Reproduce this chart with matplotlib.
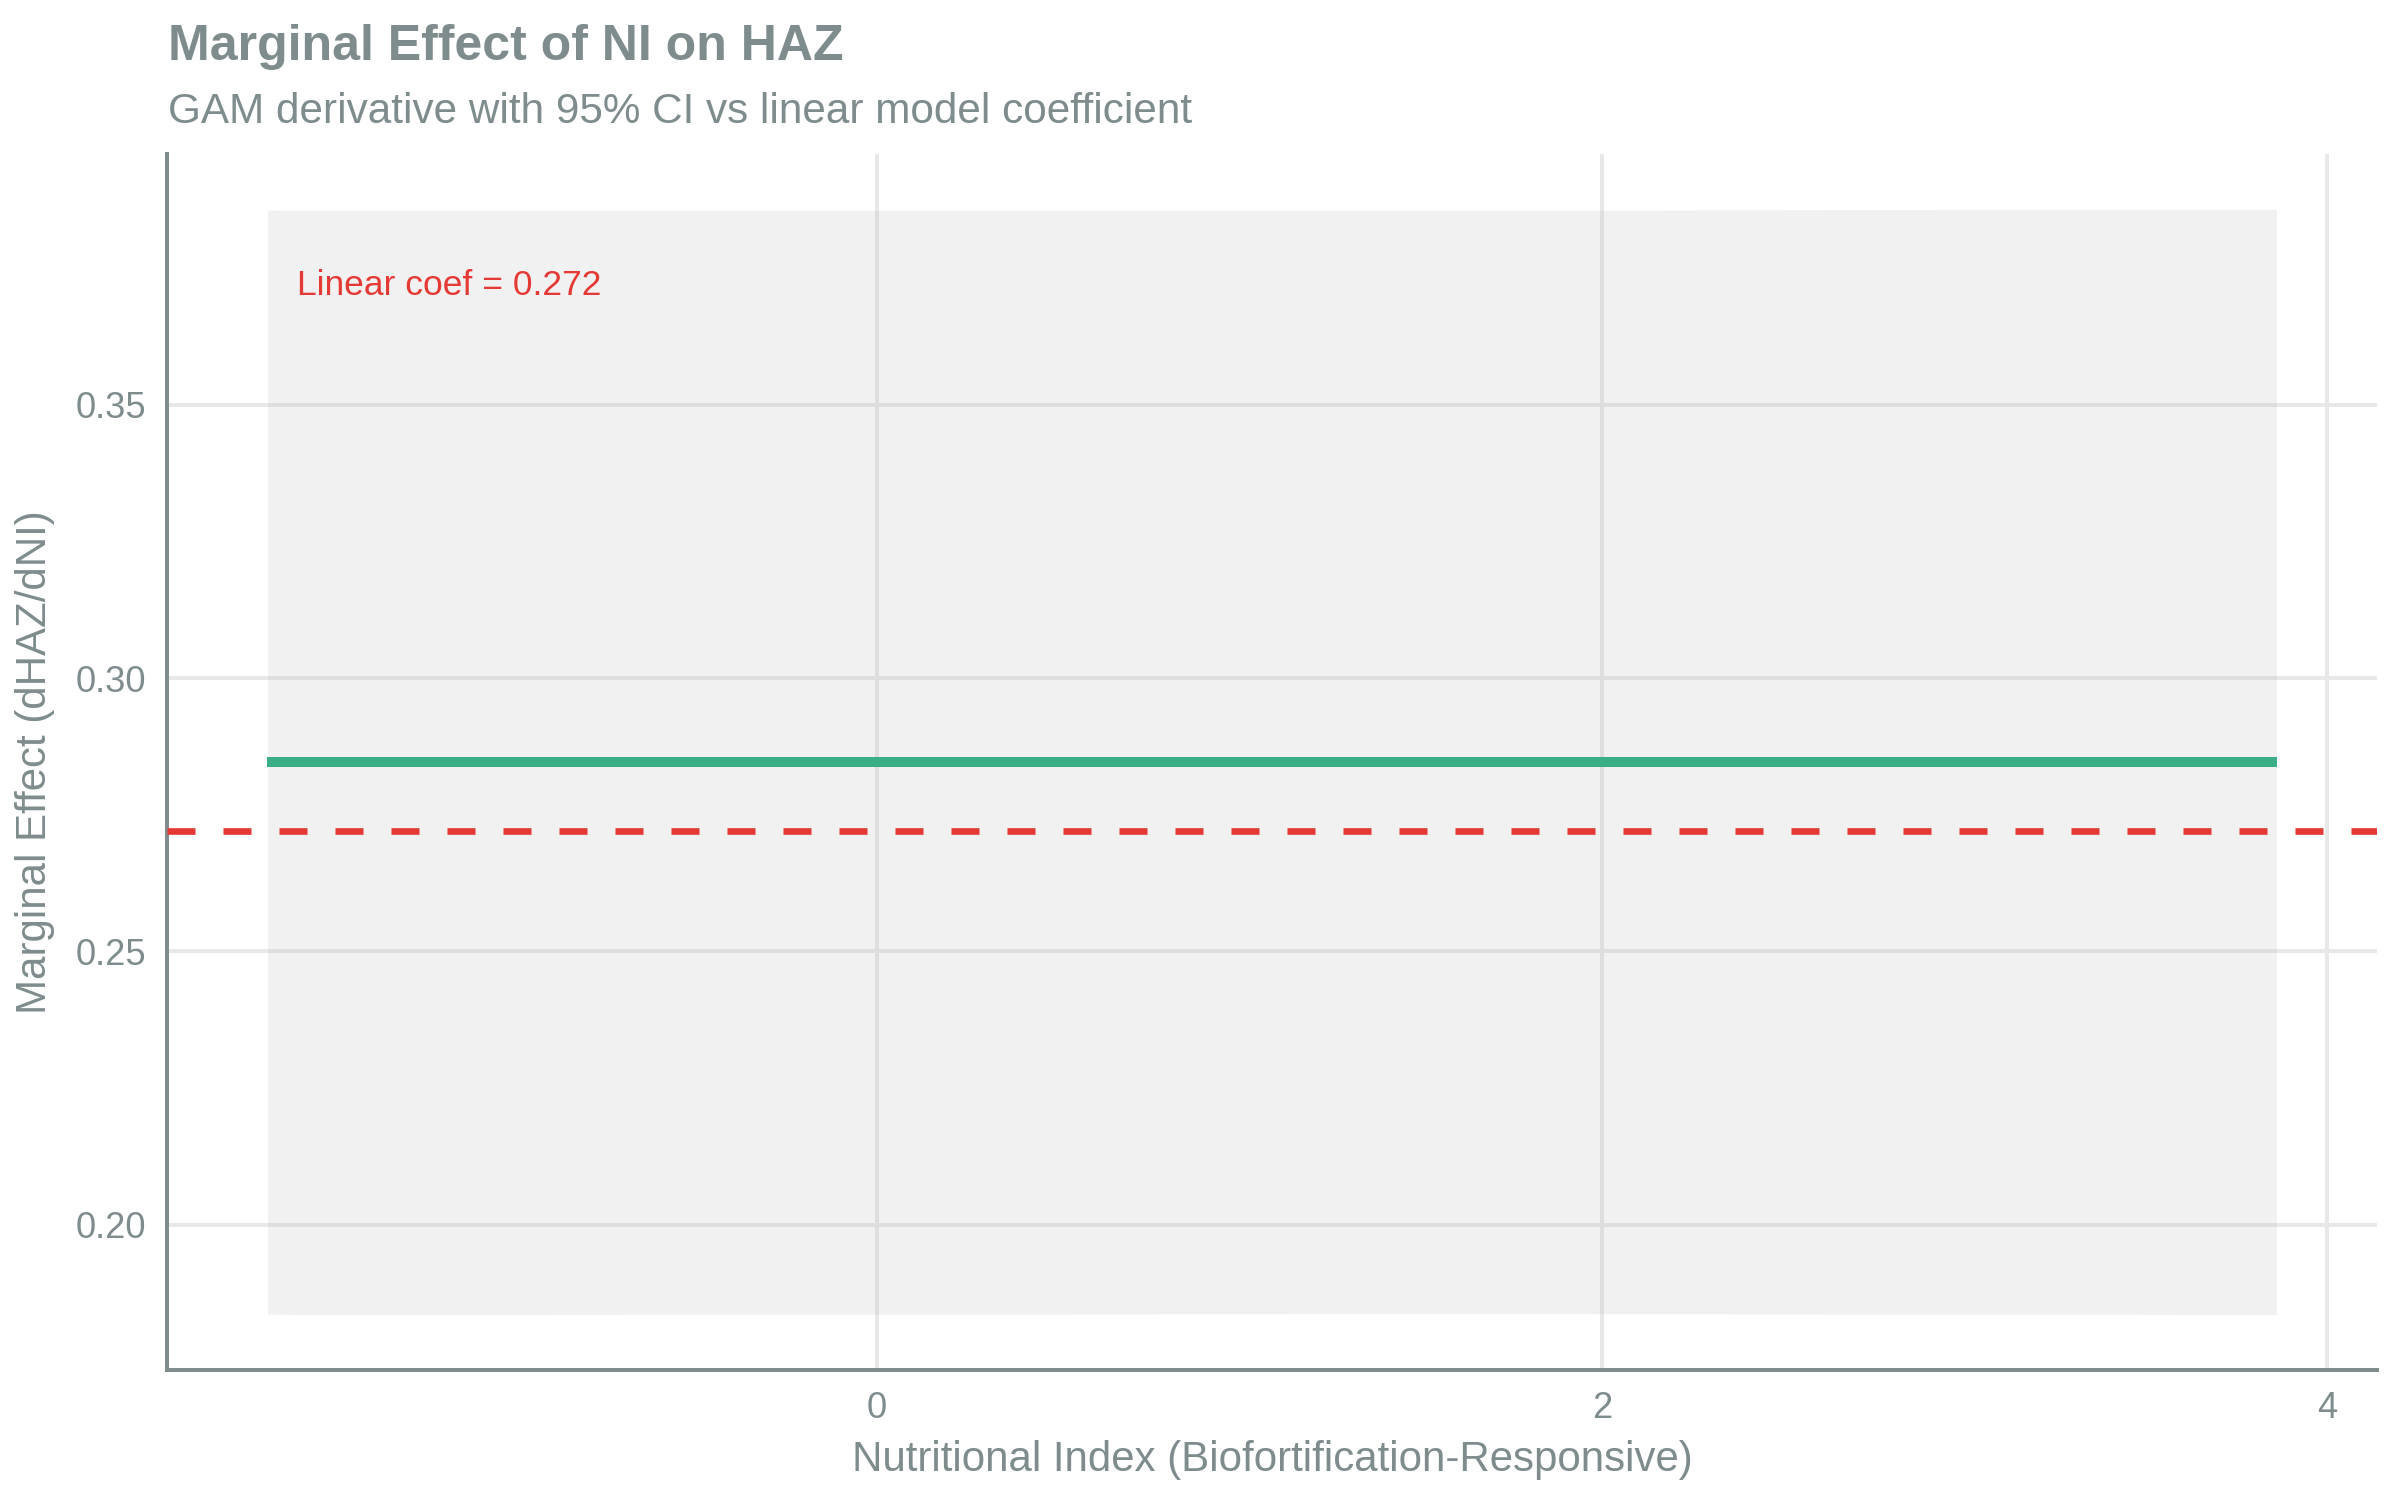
import numpy as np
import matplotlib
matplotlib.use("Agg")
import matplotlib.pyplot as plt

# values
ni_x = [-1.68, -1.57, 1.54, 3.19, 3.86]
ci_upper = [0.3857, 0.3856, 0.3856, 0.3858, 0.3858]
ci_lower = [0.1836, 0.1835, 0.1837, 0.1836, 0.1835]
deriv = [0.2846, 0.2846, 0.2846, 0.2846, 0.2846]
linear_coef = 0.272
x_ticks = [0, 2, 4]
y_ticks = [0.20, 0.25, 0.30, 0.35]

GRAY = "#7F8C8D"
GREEN = "#3AAF85"
RED = "#E53935"

plt.rcParams["font.family"] = ["Liberation Sans", "DejaVu Sans"]

fig = plt.figure(figsize=(16, 10), dpi=150)
ax = fig.add_axes([0.0696, 0.0867, 0.9208, 0.8106])

ax.fill_between(ni_x, ci_lower, ci_upper, color="#B3B3B3", alpha=0.18,
                linewidth=0, zorder=2)
ax.plot(ni_x, deriv, color=GREEN, lw=4.8, solid_capstyle="butt", zorder=3)
ax.axhline(linear_coef, color=RED, lw=3.2, linestyle=(0, (4.2, 4.2)),
           dash_capstyle="butt", zorder=4)
ax.text(-1.60, 0.3718, f"Linear coef = {linear_coef:.3f}", color=RED,
        fontsize=17, ha="left", va="center", zorder=5)

ax.margins(x=0.05, y=0.05)
ax.set_xticks(x_ticks)
ax.set_yticks(y_ticks)
ax.set_yticklabels([f"{v:.2f}" for v in y_ticks])
ax.tick_params(length=0, labelsize=17.4, colors=GRAY, pad=10)
ax.grid(True, color="#E8E8E8", lw=1.9, zorder=0)
ax.set_axisbelow(True)

for side in ["top", "right"]:
    ax.spines[side].set_visible(False)
for side in ["left", "bottom"]:
    ax.spines[side].set_color(GRAY)
    ax.spines[side].set_linewidth(1.9)

ax.set_xlabel("Nutritional Index (Biofortification-Responsive)", fontsize=20.2,
              color=GRAY, labelpad=7)
ax.set_ylabel("Marginal Effect (dHAZ/dNI)", fontsize=20.2, color=GRAY,
              labelpad=10)

fig.text(0.07, 0.96, "Marginal Effect of NI on HAZ", fontsize=24,
         fontweight="bold", color=GRAY, ha="left", va="baseline")
fig.text(0.07, 0.918, "GAM derivative with 95% CI vs linear model coefficient",
         fontsize=20.3, color=GRAY, ha="left", va="baseline")

fig.savefig("out.png", dpi=150)
